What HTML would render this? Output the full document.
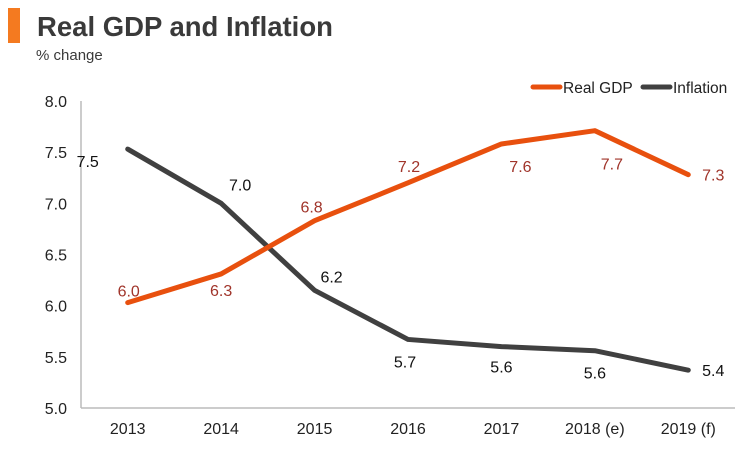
<!DOCTYPE html>
<html><head><meta charset="utf-8"><style>
body{margin:0;background:#fff;width:750px;height:450px;overflow:hidden;font-family:"Liberation Sans",Arial,sans-serif}
</style></head><body>
<svg width="750" height="450" xmlns="http://www.w3.org/2000/svg">
<rect x="8" y="8" width="12" height="35" fill="#f47a20"/>
<text x="37" y="36" font-size="27.5" font-weight="bold" fill="#3a3a3a">Real GDP and Inflation</text>
<text x="36" y="60" font-size="15" fill="#3a3a3a">% change</text>
<g id="axes"></g>
<g id="series"></g>
<g>
<line x1="533" y1="87" x2="560" y2="87" stroke="#e8500e" stroke-width="5" stroke-linecap="round"/>
<text x="563" y="93" font-size="15.5" fill="#222">Real GDP</text>
<line x1="643" y1="87" x2="670" y2="87" stroke="#404040" stroke-width="5" stroke-linecap="round"/>
<text x="673" y="93" font-size="15.5" fill="#222">Inflation</text>
</g>
</svg>
<script>
const categories=["2013","2014","2015","2016","2017","2018 (e)","2019 (f)"];
const gdpValues=[6.03,6.31,6.83,7.2,7.58,7.71,7.28];
const inflationValues=[7.53,7.0,6.15,5.67,5.6,5.56,5.37];
const gdpLabels=["6.0","6.3","6.8","7.2","7.6","7.7","7.3"];
const inflationLabels=["7.5","7.0","6.2","5.7","5.6","5.6","5.4"];
const yTicks=["5.0","5.5","6.0","6.5","7.0","7.5","8.0"];
const L=81,R=735,T=101,B=408,yMin=5,yMax=8;
const band=(R-L)/categories.length;
const xs=i=>L+band*(i+0.5);
const ys=v=>B-(v-yMin)/(yMax-yMin)*(B-T);
const NS="http://www.w3.org/2000/svg";
function mk(tag,attrs,parent){const e=document.createElementNS(NS,tag);for(const k in attrs)e.setAttribute(k,attrs[k]);parent.appendChild(e);return e;}
const axes=document.getElementById('axes'),series=document.getElementById('series');
let a=mk('line',{x1:L,y1:T,x2:L,y2:B,stroke:'#bbb','stroke-width':1.5},axes);


a=mk('line',{x1:L,y1:B,x2:R,y2:B,stroke:'#bbb','stroke-width':1.5},axes);


yTicks.forEach(t=>{const e=mk('text',{x:67,y:ys(parseFloat(t))+6,'text-anchor':'end','font-size':16,fill:'#222'},axes);e.textContent=t;

});
categories.forEach((c,i)=>{const e=mk('text',{x:xs(i),y:434,'text-anchor':'middle','font-size':16,fill:'#222'},axes);e.textContent=c;

});
function line(vals,color,name){const p=vals.map((v,i)=>xs(i)+','+ys(v)).join(' ');
const e=mk('polyline',{points:p,fill:'none',stroke:color,'stroke-width':5,'stroke-linecap':'round','stroke-linejoin':'round'},series);

}
line(inflationValues,'#404040','inflation-line');
line(gdpValues,'#e8500e','gdp-line');
const gdpOff=[[1,-6],[0,22],[-3,-8],[1,-11],[19,28],[17,39],[25,6]];
const infOff=[[-40,18],[19,-13],[17,-8],[-3,28],[0,26],[0,28],[25,6]];
gdpValues.forEach((v,i)=>{const e=mk('text',{x:xs(i)+gdpOff[i][0],y:ys(v)+gdpOff[i][1],'text-anchor':'middle','font-size':16,fill:'#a0342a'},series);e.textContent=gdpLabels[i];

});
inflationValues.forEach((v,i)=>{const e=mk('text',{x:xs(i)+infOff[i][0],y:ys(v)+infOff[i][1],'text-anchor':'middle','font-size':16,fill:'#111'},series);e.textContent=inflationLabels[i];

});
</script>
</body></html>
